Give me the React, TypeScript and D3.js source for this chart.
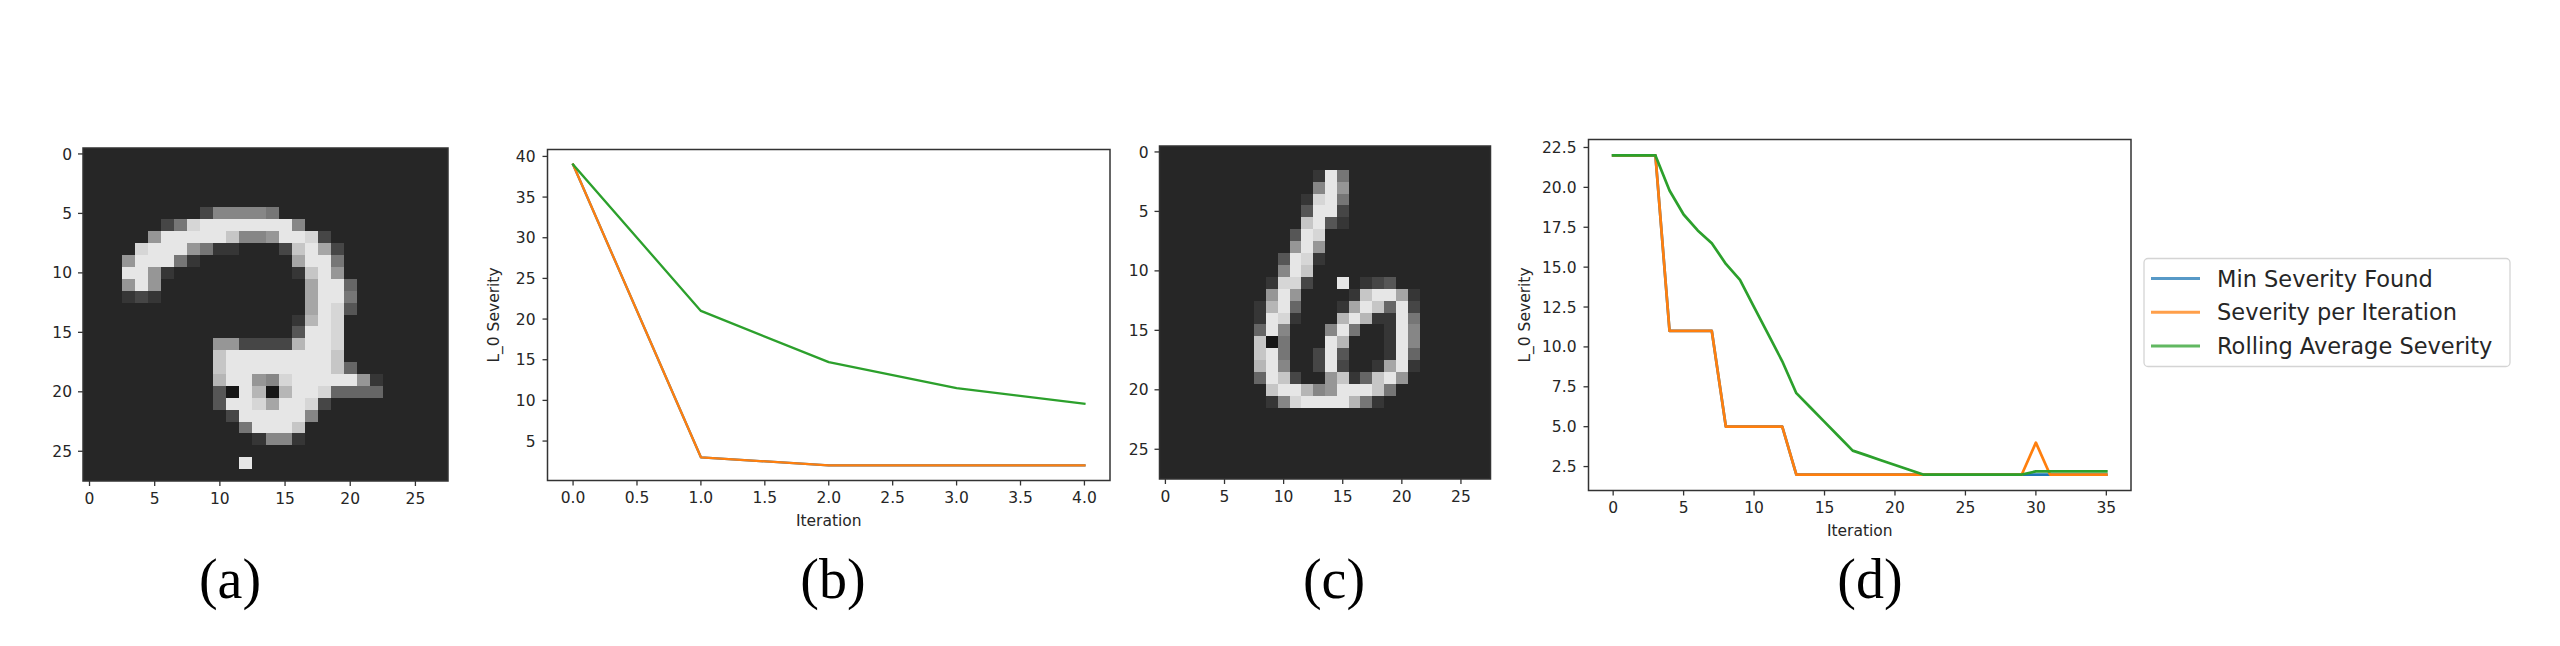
import { useRef, useEffect } from "react";
import * as d3 from "d3";

// grey levels 0-F per pixel, one string per image row
const digitA = [
  "2222222222222222222222222222",
  "2222222222222222222222222222",
  "2222222222222222222222222222",
  "2222222222222222222222222222",
  "2222222222222222222222222222",
  "2222222224888872222222222222",
  "22222247DEEEEEEE822222222222",
  "222229EEEEEC889EED4222222222",
  "2222DEEE97332224CEA422222222",
  "2229EEE732222222AEE722222222",
  "222EE932222222223CE922222222",
  "2229E922222222222AEE62222222",
  "22234322222222222AEE72222222",
  "22222222222222222AED52222222",
  "22222222222222223BED22222222",
  "22222222222222225EED22222222",
  "2222222222994444BEED22222222",
  "2222222222CEEEEEEEEC22222222",
  "2222222222CEEEEEEEEC62222222",
  "2222222222BEE98DEEEEE9322222",
  "222222222251EB1BEED666622222",
  "22222222225EEDAEED4222222222",
  "222222222224EEEEE82222222222",
  "2222222222227EEEC22222222222",
  "2222222222222388322222222222",
  "2222222222222222222222222222",
  "222222222222E222222222222222",
  "2222222222222222222222222222",
];

const digitC = [
  "2222222222222222222222222222",
  "2222222222222222222222222222",
  "22222222222223E7222222222222",
  "22222222222228E9222222222222",
  "2222222222223DE7222222222222",
  "2222222222225EE4222222222222",
  "222222222222CE53222222222222",
  "222222222225ED22222222222222",
  "222222222229E922222222222222",
  "22222222225ED322222222222222",
  "22222222228EC222222222222222",
  "2222222223DD422E234522222222",
  "2222222229E922223CEEA3222222",
  "222222223BE62223AEC6E4222222",
  "222222223ED3222BEB33E7222222",
  "222222226E82228E7223E8222222",
  "22222222C17222EB2223E8222222",
  "22222222CE7224E52223E6222222",
  "22222222BE8224E4223AE3222222",
  "222222226EC4229C36CE92222222",
  "222222222CEEB89EEEC722222222",
  "22222222238DEEEEB73222222222",
  "2222222222222222222222222222",
  "2222222222222222222222222222",
  "2222222222222222222222222222",
  "2222222222222222222222222222",
  "2222222222222222222222222222",
  "2222222222222222222222222222",
];

const pixelTicks = [0, 5, 10, 15, 20, 25];

const itersB = [0, 1, 2, 3, 4];
const minB = [39, 3, 2, 2, 2];
const perIterB = [39, 3, 2, 2, 2];
const rollingB = [39, 21, 14.7, 11.5, 9.6];
const xTicksB = [0, 0.5, 1, 1.5, 2, 2.5, 3, 3.5, 4];
const yTicksB = [5, 10, 15, 20, 25, 30, 35, 40];

const itersD = [
  0, 1, 2, 3, 4, 5, 6, 7, 8, 9, 10, 11, 12, 13, 14, 15, 16, 17, 18, 19, 20, 21,
  22, 23, 24, 25, 26, 27, 28, 29, 30, 31, 32, 33, 34, 35,
];
const minD = [
  22, 22, 22, 22, 11, 11, 11, 11, 5, 5, 5, 5, 5, 2, 2, 2, 2, 2, 2, 2, 2, 2, 2,
  2, 2, 2, 2, 2, 2, 2, 2, 2, 2, 2, 2, 2,
];
const perIterD = [
  22, 22, 22, 22, 11, 11, 11, 11, 5, 5, 5, 5, 5, 2, 2, 2, 2, 2, 2, 2, 2, 2, 2,
  2, 2, 2, 2, 2, 2, 2, 4, 2, 2, 2, 2, 2,
];
const rollingD = [
  22, 22, 22, 22, 19.8, 18.3, 17.3, 16.5, 15.2, 14.2, 12.5, 10.8, 9.1, 7.1, 6.2,
  5.3, 4.4, 3.5, 3.2, 2.9, 2.6, 2.3, 2, 2, 2, 2, 2, 2, 2, 2, 2.2, 2.2, 2.2, 2.2,
  2.2, 2.2,
];
const xTicksD = [0, 5, 10, 15, 20, 25, 30, 35];
const yTicksD = [2.5, 5, 7.5, 10, 12.5, 15, 17.5, 20, 22.5];

const seriesNames = [
  "Min Severity Found",
  "Severity per Iteration",
  "Rolling Average Severity",
];
const seriesColors = ["#1f77b4", "#ff7f0e", "#2ca02c"];
const captions = ["(a)", "(b)", "(c)", "(d)"];

type Box = { left: number; top: number; right: number; bottom: number };
type Sel = d3.Selection<SVGGElement, unknown, null, undefined>;

const FONT = "DejaVu Sans";
const INK = "#262626";
const TICK_SIZE = 15.5;

function frame(g: Sel, b: Box) {
  g.append("rect")
    .attr("x", b.left)
    .attr("y", b.top)
    .attr("width", b.right - b.left)
    .attr("height", b.bottom - b.top)
    .attr("fill", "none")
    .attr("stroke", "#333")
    .attr("stroke-width", 1.5);
}

function bottomTicks(
  g: Sel,
  b: Box,
  x: d3.ScaleLinear<number, number>,
  ticks: number[],
  fmt: (n: number) => string,
) {
  ticks.forEach((t) => {
    g.append("line")
      .attr("x1", x(t))
      .attr("x2", x(t))
      .attr("y1", b.bottom)
      .attr("y2", b.bottom + 5)
      .attr("stroke", "#333")
      .attr("stroke-width", 1.3);
    g.append("text")
      .attr("x", x(t))
      .attr("y", b.bottom + 22.5)
      .attr("text-anchor", "middle")
      .attr("font-family", FONT)
      .attr("font-size", TICK_SIZE)
      .attr("fill", INK)
      .text(fmt(t));
  });
}

function leftTicks(
  g: Sel,
  b: Box,
  y: d3.ScaleLinear<number, number>,
  ticks: number[],
  fmt: (n: number) => string,
  gap: number,
) {
  ticks.forEach((t) => {
    g.append("line")
      .attr("x1", b.left)
      .attr("x2", b.left - 5)
      .attr("y1", y(t))
      .attr("y2", y(t))
      .attr("stroke", "#333")
      .attr("stroke-width", 1.3);
    g.append("text")
      .attr("x", b.left - gap)
      .attr("y", y(t))
      .attr("dy", "0.36em")
      .attr("text-anchor", "end")
      .attr("font-family", FONT)
      .attr("font-size", TICK_SIZE)
      .attr("fill", INK)
      .text(fmt(t));
  });
}

function drawImage(g: Sel, rows: string[], b: Box) {
  const x = d3.scaleLinear().domain([-0.5, 27.5]).range([b.left, b.right]);
  const y = d3.scaleLinear().domain([-0.5, 27.5]).range([b.top, b.bottom]);
  const grey = d3
    .scaleLinear<string>()
    .domain([0, 15])
    .range(["#060606", "#f6f6f6"]);

  const cells = rows.flatMap((row, r) =>
    row.split("").map((ch, c) => ({ r, c, v: parseInt(ch, 16) })),
  );
  g.append("g")
    .selectAll("rect")
    .data(cells)
    .join("rect")
    .attr("x", (d) => x(d.c - 0.5))
    .attr("y", (d) => y(d.r - 0.5))
    .attr("width", x(1) - x(0) + 0.4)
    .attr("height", y(1) - y(0) + 0.4)
    .attr("fill", (d) => grey(d.v))
    .attr("shape-rendering", "crispEdges");

  frame(g, b);
  bottomTicks(g, b, x, pixelTicks, d3.format("d"));
  leftTicks(g, b, y, pixelTicks, d3.format("d"), 11);
}

function drawLines(
  g: Sel,
  b: Box,
  iters: number[],
  series: number[][],
  xDomain: [number, number],
  yDomain: [number, number],
  xTicks: number[],
  yTicks: number[],
  xFmt: (n: number) => string,
  yFmt: (n: number) => string,
  lw: number,
  yLabelX: number,
) {
  const x = d3.scaleLinear().domain(xDomain).range([b.left, b.right]);
  const y = d3.scaleLinear().domain(yDomain).range([b.bottom, b.top]);

  series.forEach((vals, i) => {
    const line = d3
      .line<number>()
      .x((_, k) => x(iters[k]))
      .y((d) => y(d));
    g.append("path")
      .attr("d", line(vals))
      .attr("fill", "none")
      .attr("stroke", seriesColors[i])
      .attr("stroke-width", lw)
      .attr("stroke-linejoin", "round")
      .attr("stroke-linecap", "square");
  });

  frame(g, b);
  bottomTicks(g, b, x, xTicks, xFmt);
  leftTicks(g, b, y, yTicks, yFmt, 12);

  g.append("text")
    .attr("x", (b.left + b.right) / 2)
    .attr("y", b.bottom + 45)
    .attr("text-anchor", "middle")
    .attr("font-family", FONT)
    .attr("font-size", TICK_SIZE)
    .attr("fill", INK)
    .text("Iteration");

  g.append("text")
    .attr(
      "transform",
      `translate(${yLabelX},${(b.top + b.bottom) / 2}) rotate(-90)`,
    )
    .attr("text-anchor", "middle")
    .attr("font-family", FONT)
    .attr("font-size", TICK_SIZE)
    .attr("fill", INK)
    .text("L_0 Severity");
}

export default function App() {
  const svgRef = useRef<SVGSVGElement>(null);

  useEffect(() => {
    if (!svgRef.current) return;
    const svg = d3.select(svgRef.current);
    svg.selectAll("*").remove();
    const root = svg.append("g") as Sel;

    root
      .append("rect")
      .attr("width", 2560)
      .attr("height", 646)
      .attr("fill", "#fff");

    drawImage(root, digitA, { left: 83, top: 148, right: 448, bottom: 481 });
    drawImage(root, digitC, {
      left: 1159.5,
      top: 146,
      right: 1490.5,
      bottom: 479,
    });

    drawLines(
      root,
      { left: 547.5, top: 149.5, right: 1110, bottom: 480.5 },
      itersB,
      [minB, perIterB, rollingB],
      [-0.2, 4.2],
      [0.15, 40.85],
      xTicksB,
      yTicksB,
      d3.format(".1f"),
      d3.format("d"),
      2.3,
      499,
    );

    drawLines(
      root,
      { left: 1588.5, top: 139.5, right: 2131, bottom: 490.5 },
      itersD,
      [minD, perIterD, rollingD],
      [-1.75, 36.75],
      [1, 23],
      xTicksD,
      yTicksD,
      d3.format("d"),
      d3.format(".1f"),
      2.7,
      1530,
    );

    // legend beside panel (d)
    const lg = root.append("g");
    lg.append("rect")
      .attr("x", 2144)
      .attr("y", 258.5)
      .attr("width", 366)
      .attr("height", 108)
      .attr("rx", 4)
      .attr("fill", "#fff")
      .attr("stroke", "#d4d4d4")
      .attr("stroke-width", 1.3);
    seriesNames.forEach((name, i) => {
      const yy = 278.5 + i * 33.8;
      lg.append("line")
        .attr("x1", 2151)
        .attr("x2", 2200)
        .attr("y1", yy)
        .attr("y2", yy)
        .attr("stroke", seriesColors[i])
        .attr("stroke-opacity", 0.75)
        .attr("stroke-width", 3);
      lg.append("text")
        .attr("x", 2217)
        .attr("y", yy)
        .attr("dy", "0.36em")
        .attr("font-family", FONT)
        .attr("font-size", 22.5)
        .attr("fill", INK)
        .text(name);
    });

    // sub-figure captions
    const capX = [230, 833, 1334, 1870];
    captions.forEach((c, i) => {
      root
        .append("text")
        .attr("x", capX[i])
        .attr("y", 598)
        .attr("text-anchor", "middle")
        .attr("font-family", "Liberation Serif")
        .attr("font-size", 56)
        .attr("fill", "#000")
        .text(c);
    });
  }, []);

  return (
    <svg
      ref={svgRef}
      width={2560}
      height={646}
      viewBox="0 0 2560 646"
      style={{ position: "absolute", left: 0, top: 0, display: "block" }}
    />
  );
}
